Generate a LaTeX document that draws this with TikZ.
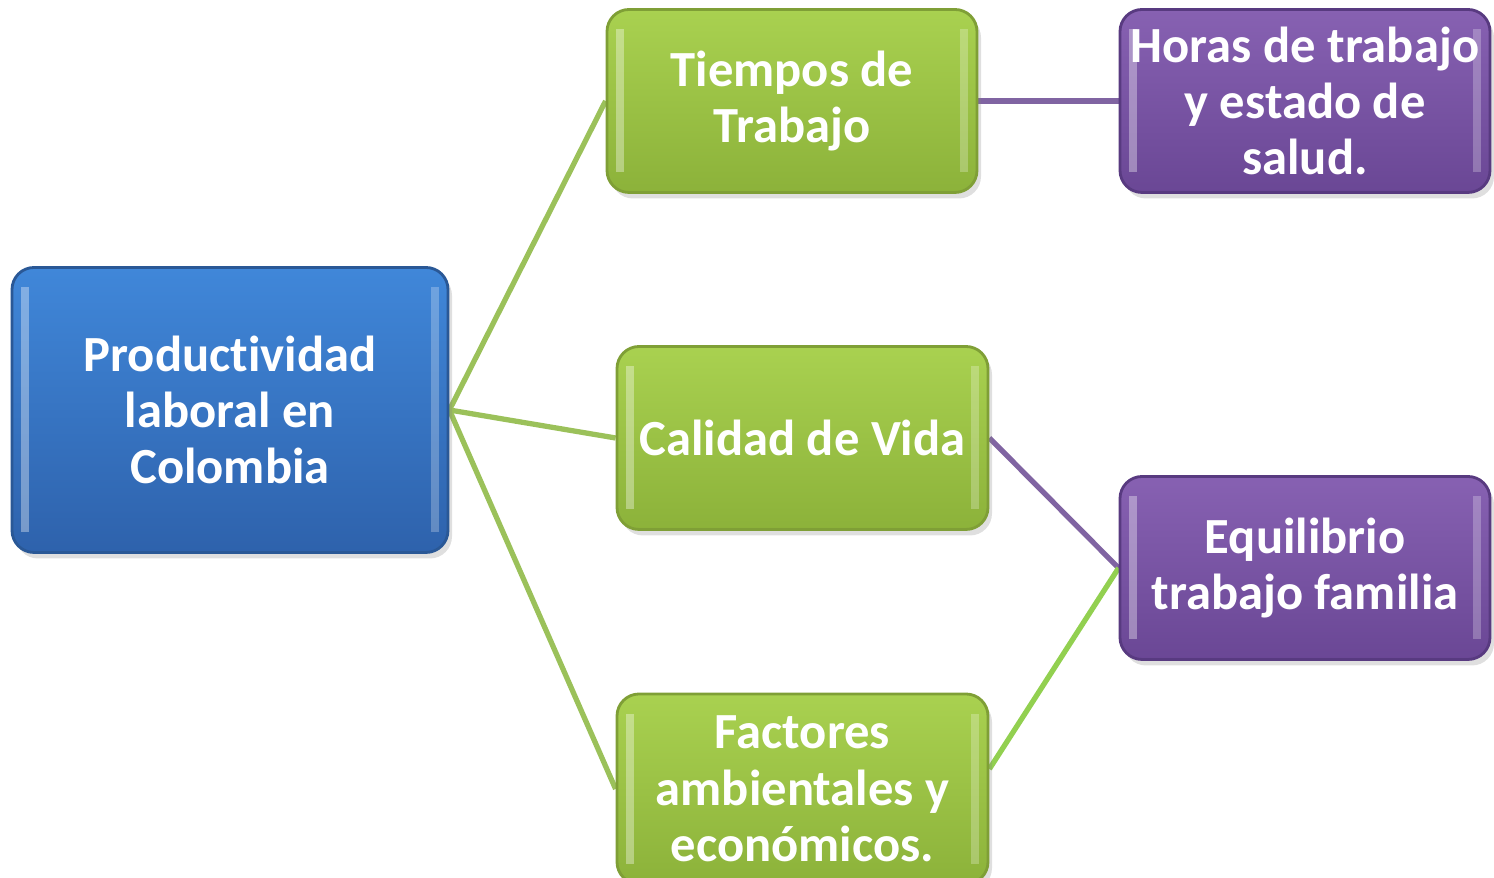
\documentclass[tikz,border=0pt]{standalone}
\usepackage{fontspec}
\setmainfont{Carlito}[Ligatures=NoCommon]
\usepackage{xcolor}
\usepackage{tikz}
\usetikzlibrary{backgrounds}
\usetikzlibrary{shadows}
\usetikzlibrary{positioning}
\definecolor{azulA}{HTML}{4087D9}
\definecolor{azulB}{HTML}{2E62AC}
\definecolor{azulR}{HTML}{2A5896}
\definecolor{verdeA}{HTML}{A9D150}
\definecolor{verdeB}{HTML}{8CB23A}
\definecolor{verdeR}{HTML}{7F9F36}
\definecolor{lilaA}{HTML}{8761B2}
\definecolor{lilaB}{HTML}{6A4795}
\definecolor{lilaR}{HTML}{583A80}
\definecolor{lineaV}{HTML}{9BC15A}
\definecolor{lineaV2}{HTML}{92D050}
\definecolor{lineaL}{HTML}{8064A2}
\tikzset{
  Kasten/.style={rounded corners=2.2mm, thick, text=white, align=center,
    font=\fontsize{14.4}{16}\selectfont\bfseries, inner sep=0pt,
    drop shadow={opacity=.25, shadow xshift=.4mm, shadow yshift=-.6mm},
    path picture={% Glanzkante
      \draw[white, opacity=.35, line width=2.5pt, rounded corners=1mm]
        ([xshift=1.3mm, yshift=-2mm]path picture bounding box.north west) --
        ([xshift=1.3mm, yshift=2mm]path picture bounding box.south west);
      \draw[white, opacity=.25, line width=2pt]
        ([xshift=-1.3mm, yshift=-2mm]path picture bounding box.north east) --
        ([xshift=-1.3mm, yshift=2mm]path picture bounding box.south east);
    }}, % Grundform
  Blau/.style={Kasten, draw=azulR, top color=azulA, bottom color=azulB},
  Gruen/.style={Kasten, draw=verdeR, top color=verdeA, bottom color=verdeB},
  Lila/.style={Kasten, draw=lilaR, top color=lilaA, bottom color=lilaB},
  Linie/.style={line width=1.5pt, draw=#1} % Verbindungen
}

\begin{document}
\begin{tikzpicture}[font=\bfseries]
\useasboundingbox (0,0) rectangle (14.94,8.78);

%Kaesten
\node[Blau, minimum width=4.36cm, minimum height=2.85cm] (prod) at (2.30,4.68)
  {Productividad\\laboral en\\Colombia};
\node[Gruen, minimum width=3.70cm, minimum height=1.83cm] (tiempo) at (7.92,7.77)
  {Tiempos de\\Trabajo};
\node[Gruen, minimum width=3.71cm, minimum height=1.83cm] (calidad) at (8.025,4.40)
  {Calidad de Vida};
\node[Gruen, minimum width=3.71cm, minimum height=1.90cm] (factores) at (8.025,0.89)
  {Factores\\ambientales y\\económicos.};
\node[Lila, minimum width=3.70cm, minimum height=1.83cm] (horas) at (13.05,7.77)
  {Horas de trabajo\\y estado de\\salud.};
\node[Lila, minimum width=3.70cm, minimum height=1.83cm] (equilibrio) at (13.05,3.10)
  {Equilibrio\\trabajo familia};

\coordinate (fe) at ([yshift=2mm]factores.east);

%Verbindungen
\begin{scope}[on background layer]
\draw[Linie=lineaV] (prod.east) -- (tiempo.west);
\draw[Linie=lineaV] (prod.east) -- (calidad.west);
\draw[Linie=lineaV] (prod.east) -- (factores.west);
\draw[Linie=lineaL] (tiempo.east) -- (horas.west);
\draw[Linie=lineaL] (calidad.east) -- (equilibrio.west);
\draw[Linie=lineaV2] (fe) -- (equilibrio.west);
\end{scope}

\end{tikzpicture}
\end{document}
